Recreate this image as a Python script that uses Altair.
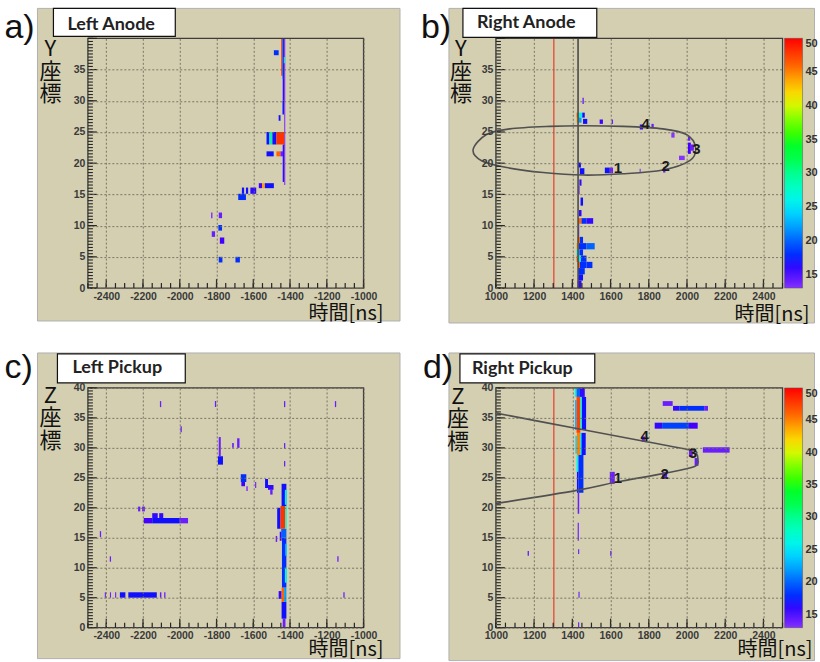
import altair as alt
import pandas as pd

TAN = "#d4cfb1"
GRID = "#6f6b5c"
FRAME = "#3c3c3c"
CJK = "Noto Sans CJK JP"
SANS = "Liberation Sans"
BOXFONT = "Lato"

# ---------------- data: histogram cells (t_start, t_end, coord_start, coord_end, counts) ----------------
A_CELLS = [
    (-1432, -1426, 16.5, 40.0, 13), (-1448, -1441, 34.0, 40.0, 48), (-1441, -1432, 33.5, 40.0, 18),
    (-1434, -1428, 36.0, 37.0, 26), (-1440, -1432, 30.0, 33.5, 16), (-1441, -1433, 27.8, 30.0, 17),
    (-1488, -1462, 37.3, 38.1, 18), (-1462, -1452, 26.8, 27.7, 17), (-1440, -1432, 17.0, 23.0, 16),
    (-1528, -1513, 23.0, 25.0, 17), (-1513, -1505, 23.0, 25.0, 24), (-1505, -1496, 23.0, 25.0, 31),
    (-1496, -1474, 23.0, 25.0, 17), (-1474, -1432, 23.0, 25.0, 48),
    (-1528, -1489, 21.1, 21.9, 17), (-1474, -1452, 21.1, 21.9, 46), (-1452, -1438, 21.1, 21.9, 14),
    (-1570, -1552, 16.0, 16.8, 15), (-1552, -1537, 16.0, 16.8, 44), (-1537, -1488, 16.0, 16.8, 17),
    (-1662, -1650, 15.1, 16.1, 17), (-1640, -1628, 15.1, 16.1, 17), (-1616, -1584, 15.1, 16.1, 16),
    (-1682, -1640, 14.1, 15.1, 18),
    (-1830, -1822, 11.2, 12.1, 13), (-1788, -1770, 11.2, 12.1, 14), (-1790, -1770, 9.2, 10.1, 18),
    (-1826, -1808, 8.2, 9.1, 14), (-1782, -1758, 7.1, 8.1, 15), (-1788, -1768, 4.1, 5.0, 18),
    (-1697, -1673, 4.1, 5.0, 18),
]

B_CELLS = [
    (1453, 1460, 29.5, 30.5, 14), (1422, 1432, 27.3, 28.1, 46), (1432, 1452, 27.3, 28.1, 26),
    (1452, 1465, 27.3, 28.1, 17), (1422, 1432, 26.5, 27.3, 44), (1432, 1448, 26.5, 27.3, 22),
    (1456, 1478, 26.3, 27.1, 17), (1543, 1560, 26.3, 27.0, 15), (1606, 1613, 26.3, 27.0, 14),
    (1753, 1770, 25.4, 26.2, 16), (1814, 1826, 25.6, 26.3, 14), (1918, 1935, 24.1, 24.9, 13),
    (2005, 2017, 23.6, 24.2, 14), (2005, 2020, 21.5, 23.3, 15), (2020, 2036, 22.0, 23.0, 14),
    (1958, 1988, 20.5, 21.2, 13), (1875, 1887, 18.5, 19.3, 14), (1752, 1758, 18.5, 19.1, 13),
    (1570, 1596, 18.4, 19.3, 17), (1596, 1613, 18.4, 19.3, 14),
    (1430, 1445, 19.3, 20.1, 17), (1439, 1463, 18.2, 19.2, 17), (1437, 1448, 16.4, 17.4, 16),
    (1432, 1438, 15.0, 16.4, 14), (1443, 1456, 13.2, 14.5, 17), (1435, 1448, 11.5, 12.5, 16),
    (1430, 1448, 10.3, 11.2, 46), (1448, 1474, 10.3, 11.2, 18), (1474, 1509, 10.3, 11.2, 16),
    (1430, 1436, 8.2, 10.3, 14), (1428, 1440, 7.2, 8.2, 46), (1440, 1456, 7.2, 8.2, 18),
    (1422, 1435, 6.2, 7.2, 44), (1435, 1474, 6.2, 7.2, 18), (1474, 1517, 6.2, 7.2, 20),
    (1422, 1437, 5.2, 6.2, 26), (1437, 1456, 5.2, 6.2, 18), (1422, 1433, 4.2, 5.2, 46),
    (1433, 1445, 4.2, 5.2, 26), (1445, 1474, 4.2, 5.2, 18), (1430, 1440, 3.2, 4.2, 46),
    (1440, 1474, 3.2, 4.2, 18), (1474, 1505, 3.2, 4.2, 18), (1430, 1465, 2.2, 3.2, 18),
    (1430, 1456, 1.2, 2.2, 17), (1428, 1448, 0.0, 1.2, 16),
]

C_CELLS = [
    (-2108, -2101, 36.8, 37.8, 14), (-1809, -1802, 36.8, 37.8, 14), (-1433, -1426, 36.8, 37.8, 14),
    (-1156, -1149, 36.8, 37.8, 14), (-1996, -1989, 32.6, 33.6, 14), (-1433, -1426, 29.9, 30.8, 14),
    (-1433, -1426, 26.9, 27.8, 14), (-2435, -2428, 15.1, 16.1, 14), (-2381, -2374, 11.0, 11.9, 14),
    (-1143, -1136, 11.0, 11.9, 14), (-1110, -1103, 5.0, 5.9, 14),
    (-1788, -1777, 28.6, 31.8, 14), (-1792, -1765, 27.2, 28.6, 17), (-1715, -1706, 30.0, 30.8, 14),
    (-1688, -1675, 30.0, 31.6, 14), (-1668, -1638, 24.3, 25.6, 18), (-1665, -1645, 23.6, 24.3, 15),
    (-1638, -1630, 22.8, 23.6, 13), (-1590, -1584, 23.3, 24.3, 14), (-1536, -1520, 23.3, 24.8, 17),
    (-1520, -1490, 23.0, 23.8, 16), (-1508, -1495, 22.2, 23.0, 14),
    (-2196, -2150, 17.4, 18.3, 15), (-2150, -2000, 17.4, 18.3, 17), (-2000, -1955, 17.4, 18.3, 14),
    (-2150, -2120, 18.3, 19.1, 16), (-2112, -2090, 18.3, 19.1, 16), (-2227, -2215, 19.4, 20.2, 14),
    (-2205, -2190, 19.4, 20.2, 14),
    (-2408, -2402, 5.0, 5.9, 14), (-2380, -2374, 5.0, 5.9, 14), (-2352, -2346, 5.0, 5.9, 14),
    (-2326, -2296, 5.0, 5.9, 17), (-2280, -2125, 5.0, 5.9, 17), (-2108, -2100, 5.0, 5.9, 14),
    (-2085, -2078, 5.0, 5.9, 14),
    (-1440, -1425, 0.0, 1.5, 14), (-1446, -1420, 1.5, 4.3, 17), (-1462, -1446, 4.8, 6.1, 16),
    (-1446, -1432, 4.3, 6.7, 46), (-1432, -1420, 4.3, 6.7, 22), (-1444, -1420, 6.7, 15.0, 18),
    (-1428, -1418, 7.5, 10.0, 27), (-1426, -1418, 12.0, 14.0, 24), (-1478, -1470, 14.3, 15.3, 14),
    (-1456, -1446, 14.5, 16.0, 15), (-1448, -1420, 15.0, 16.5, 20), (-1470, -1452, 16.5, 20.0, 17),
    (-1452, -1426, 16.5, 20.3, 48), (-1426, -1418, 16.5, 20.3, 27), (-1446, -1420, 20.3, 24.0, 17),
    (-1428, -1418, 20.5, 23.0, 26),
]

D_CELLS = [
    (1413, 1422, 38.5, 40.0, 26), (1422, 1440, 38.5, 40.0, 20), (1440, 1465, 38.5, 40.0, 16),
    (1422, 1442, 32.5, 38.5, 47), (1415, 1422, 33.0, 38.0, 22), (1442, 1450, 33.0, 38.5, 27),
    (1450, 1472, 33.0, 38.5, 17), (1424, 1440, 28.8, 32.5, 45), (1416, 1424, 29.0, 32.0, 24),
    (1440, 1448, 28.8, 32.5, 26), (1448, 1470, 28.8, 32.5, 17), (1422, 1432, 26.0, 28.8, 26),
    (1432, 1458, 22.5, 28.8, 18), (1424, 1432, 22.5, 26.0, 17), (1428, 1436, 19.0, 22.5, 14),
    (1428, 1434, 14.5, 17.5, 14), (1430, 1436, 12.3, 13.1, 14), (1432, 1438, 5.0, 6.0, 14),
    (1430, 1436, 0.0, 0.9, 14), (1166, 1173, 12.0, 12.8, 14), (1598, 1605, 12.0, 12.8, 14),
    (1873, 1925, 37.0, 37.8, 14), (1927, 1960, 36.2, 37.0, 16), (1960, 2090, 36.2, 37.0, 18),
    (2090, 2110, 36.2, 37.0, 14), (1831, 1870, 33.2, 34.2, 16), (1870, 2010, 33.2, 34.2, 19),
    (2010, 2056, 33.2, 34.2, 15), (2083, 2223, 29.2, 30.1, 14), (2010, 2030, 28.5, 29.6, 14),
    (2040, 2060, 27.0, 28.3, 14), (1596, 1622, 24.0, 26.0, 14), (1870, 1896, 25.0, 26.0, 14),
    (1763, 1780, 31.0, 31.9, 14),
]

# overlay curves
B_ELLIPSE_T = [881, 951, 1073, 1282, 1456, 1665, 1874, 1997, 2045, 2014, 1874, 1665, 1456, 1247, 1056, 925]
B_ELLIPSE_Y = [22.2, 24.6, 25.5, 25.9, 26.0, 25.9, 25.5, 24.6, 22.5, 20.4, 18.9, 18.3, 18.1, 18.5, 19.3, 20.4]
D_CURVE_T = [1000, 1423, 1768, 2022, 2050, 2056, 2040, 1873, 1632, 1423, 1000]
D_CURVE_Y = [35.8, 33.23, 31.14, 29.6, 29.0, 28.2, 26.9, 25.7, 24.3, 22.9, 20.7]
B_NUM_T = [1639, 1888, 2049, 1784]
B_NUM_Y = [19.3, 19.6, 22.2, 26.2]
D_NUM_T = [1639, 1883, 2031, 1779]
D_NUM_Y = [24.9, 25.7, 29.1, 31.9]
NUM_LABELS = ["1", "2", "3", "4"]
RED_LINE_T = [1303]
DARK_LINE_T = [1430]

# axes
T_LEFT_DOMAIN = [-2500, -1000]
T_RIGHT_DOMAIN = [1000, 2500]
T_LEFT_LABELS = [-2400, -2200, -2000, -1800, -1600, -1400, -1200, -1000]
T_RIGHT_LABELS = [1000, 1200, 1400, 1600, 1800, 2000, 2200, 2400]
Y_LABELS_TOP = [0, 5, 10, 15, 20, 25, 30, 35]
Y_LABELS_BOTTOM = [0, 5, 10, 15, 20, 25, 30, 35, 40]
Y_MAJOR = [0, 5, 10, 15, 20, 25, 30, 35, 40]

# colour palette (counts)
CB_STOPS = [13, 15, 17, 19, 21, 23, 25, 27, 29, 32, 35, 37.5, 39, 41, 43, 45, 47, 50]
CB_COLORS = ["#8533ff", "#4400ff", "#1010ff", "#0040ff", "#0080ff", "#10b8ff", "#00e8f8", "#00ffd8",
             "#00ffa8", "#00ff50", "#00ff00", "#60ff00", "#b0ff00", "#f0f000", "#ffc000", "#ff8000",
             "#ff4000", "#ff0000"]
CB_LABELS = [15, 20, 25, 30, 35, 40, 45, 50]

ONE = alt.Data(values=[{}])


def deco_rect(x0, y0, x1, y1, **kw):
    return alt.Chart(ONE).mark_rect(**kw).encode(
        x=alt.value(x0), x2=alt.value(x1), y=alt.value(y0), y2=alt.value(y1))


def deco_text(txt, x, y, **kw):
    return alt.Chart(ONE).mark_text(text=txt, **kw).encode(x=alt.value(x), y=alt.value(y))


def panel(cfg):
    w, h = cfg["w"], cfg["h"]
    tdom = cfg["tdom"]
    xs = alt.Scale(domain=tdom, nice=False, zero=False)
    ys = alt.Scale(domain=[0, 40], nice=False, zero=False)
    common = dict(grid=True, gridColor=GRID, gridDash=[2, 2], gridWidth=1, gridOpacity=0.9,
                  ticks=False, domain=False, labelExpr="'' + datum.value", labelFont=SANS,
                  labelFontWeight="bold", labelFontSize=10.5, labelColor="#3a3a3a", title=None,
                  zindex=1, labelOverlap=False, labelFlush=False, labelPadding=3)
    xax = alt.Axis(values=cfg["tlabels"], **common)
    yax = alt.Axis(values=cfg["ylabels"], **common)

    def X(f):
        return alt.X(f"{f}:Q", scale=xs, axis=xax)

    def Y(f):
        return alt.Y(f"{f}:Q", scale=ys, axis=yax)

    layers = []
    if cfg.get("page"):
        layers.append(deco_rect(-87.5, -37, 732.5, 625, color="white"))
    bx0, by0, bx1, by1 = cfg["bg"]
    layers.append(deco_rect(bx0, by0, bx1, by1, fill=TAN, stroke="#b0b0b0", strokeWidth=1))

    cells = pd.DataFrame(cfg["cells"], columns=["t0", "t1", "c0", "c1", "n"])
    if cfg["legend"]:
        legend = alt.Legend(orient="none", legendX=289, legendY=0, direction="vertical",
                            gradientLength=h, gradientThickness=18, title=None, values=CB_LABELS,
                            labelFont=SANS, labelFontWeight="bold", labelFontSize=11,
                            labelColor="#333333", labelOffset=3, gradientStrokeColor="#555555",
                            gradientStrokeWidth=0.5, padding=0, labelOverlap=False)
    else:
        legend = None
    cscale = alt.Scale(domain=CB_STOPS, range=CB_COLORS, type="linear", clamp=True)
    layers.append(alt.Chart(cells).mark_rect().encode(
        x=X("t0"), x2="t1:Q", y=Y("c0"), y2="c1:Q",
        color=alt.Color("n:Q", scale=cscale, legend=legend)))

    if cfg.get("right"):
        red = pd.DataFrame({"t": RED_LINE_T})
        layers.append(alt.Chart(red).mark_rule(color="#e5604a", strokeWidth=1.6).encode(
            x=X("t"), y=alt.value(0), y2=alt.value(h)))
        if cfg["key"] == "b":
            dark = pd.DataFrame({"t": DARK_LINE_T})
            layers.append(alt.Chart(dark).mark_rule(color="#4a4a4a", strokeWidth=1.6).encode(
                x=X("t"), y=alt.value(0), y2=alt.value(h)))
            curve = pd.DataFrame({"t": B_ELLIPSE_T, "c": B_ELLIPSE_Y, "i": list(range(len(B_ELLIPSE_T)))})
            layers.append(alt.Chart(curve).mark_line(interpolate="cardinal-closed", color="#505050",
                                                     strokeWidth=1.6).encode(
                x=X("t"), y=Y("c"), order="i:Q"))
            nums = pd.DataFrame({"t": B_NUM_T, "c": B_NUM_Y, "lab": NUM_LABELS})
        else:
            curve = pd.DataFrame({"t": D_CURVE_T, "c": D_CURVE_Y, "i": list(range(len(D_CURVE_T)))})
            layers.append(alt.Chart(curve).mark_line(interpolate="cardinal", color="#505050",
                                                     strokeWidth=1.6).encode(
                x=X("t"), y=Y("c"), order="i:Q"))
            nums = pd.DataFrame({"t": D_NUM_T, "c": D_NUM_Y, "lab": NUM_LABELS})
        layers.append(alt.Chart(nums).mark_text(font=SANS, fontWeight="bold", fontSize=15,
                                                color="#1a1a1a").encode(
            x=X("t"), y=Y("c"), text="lab:N"))

    # frame
    layers.append(deco_rect(0, 0, w, h, fill="white", fillOpacity=0, stroke=FRAME, strokeWidth=1.3))

    # inner ticks (ROOT style), drawn on top of the frame
    t_minor = pd.DataFrame({"tk": list(range(tdom[0], tdom[1] + 1, 50))})
    t_major = pd.DataFrame({"tk": cfg["tlabels"]})
    y_minor = pd.DataFrame({"ck": [k / 2 for k in range(0, 81)]})
    y_major = pd.DataFrame({"ck": Y_MAJOR})
    tick_col = "#262626"
    layers.append(alt.Chart(t_minor).mark_rule(color=tick_col, strokeWidth=1.2).encode(
        x=X("tk"), y=alt.value(h), y2=alt.value(h - 5)))
    layers.append(alt.Chart(t_major).mark_rule(color=tick_col, strokeWidth=1.2).encode(
        x=X("tk"), y=alt.value(h), y2=alt.value(h - 9)))
    layers.append(alt.Chart(y_minor).mark_rule(color=tick_col, strokeWidth=1.1).encode(
        y=Y("ck"), x=alt.value(0), x2=alt.value(5)))
    layers.append(alt.Chart(y_major).mark_rule(color=tick_col, strokeWidth=1.2).encode(
        y=Y("ck"), x=alt.value(0), x2=alt.value(9)))

    # title box
    x0, y0, x1, y1 = cfg["box"]
    layers.append(deco_rect(x0, y0, x1, y1, fill="white", stroke="#111111", strokeWidth=1.2))
    tx, ty = cfg["box_text_pos"]
    layers.append(deco_text(cfg["title"], tx, ty, font=BOXFONT, fontWeight="bold", fontSize=18,
                            color="#222222", align="left", baseline="alphabetic"))
    lx, ly = cfg["letter_pos"]
    layers.append(deco_text(cfg["letter"], lx, ly, font=SANS, fontSize=34, color="#111111",
                            align="left", baseline="alphabetic"))
    yx, yy = cfg["ytitle_pos"]
    layers.append(deco_text(cfg["ytitle"], yx, yy, font=CJK, fontSize=22, lineBreak="\n",
                            lineHeight=22.5, color="#111111", align="center", baseline="alphabetic"))
    xx, xy = cfg["xtitle_pos"]
    layers.append(deco_text("時間[ns]", xx, xy, font=CJK, fontSize=20, color="#111111",
                            align="right", baseline="alphabetic"))

    return alt.layer(*layers).properties(width=w, height=h)


PANELS = [
    dict(key="a", page=True, w=276, h=250, tdom=T_LEFT_DOMAIN, tlabels=T_LEFT_LABELS,
         ylabels=Y_LABELS_TOP, cells=A_CELLS, legend=False, right=False,
         bg=(-50.5, -30, 312.5, 283), box=(-34.5, -30, 87.5, -2), box_text_pos=(-20.5, -8.5),
         title="Left Anode", letter="a)", letter_pos=(-83.5, 0), ytitle="Y\n座\n標",
         ytitle_pos=(-37.5, 18), xtitle_pos=(296, 282)),
    dict(key="b", w=287, h=250, tdom=T_RIGHT_DOMAIN, tlabels=T_RIGHT_LABELS,
         ylabels=Y_LABELS_TOP, cells=B_CELLS, legend=True, right=True,
         bg=(-47, -30, 319, 285), box=(-33, -30, 101, -1), box_text_pos=(-19, -10),
         title="Right Anode", letter="b)", letter_pos=(-75, 0), ytitle="Y\n座\n標",
         ytitle_pos=(-35, 18), xtitle_pos=(314, 283)),
    dict(key="c", w=276, h=240, tdom=T_LEFT_DOMAIN, tlabels=T_LEFT_LABELS,
         ylabels=Y_LABELS_BOTTOM, cells=C_CELLS, legend=False, right=False,
         bg=(-50.5, -35, 312.5, 271), box=(-30.5, -34, 97.5, -5), box_text_pos=(-15.5, -15),
         title="Left Pickup", letter="c)", letter_pos=(-83.5, -10), ytitle="Z\n座\n標",
         ytitle_pos=(-37.5, 15), xtitle_pos=(296, 268)),
    dict(key="d", w=287, h=240, tdom=T_RIGHT_DOMAIN, tlabels=T_RIGHT_LABELS,
         ylabels=Y_LABELS_BOTTOM, cells=D_CELLS, legend=True, right=True,
         bg=(-47, -35, 319, 273), box=(-36, -34, 99, -5), box_text_pos=(-24, -14),
         title="Right Pickup", letter="d)", letter_pos=(-73, -10), ytitle="Z\n座\n標",
         ytitle_pos=(-38, 16), xtitle_pos=(317, 268)),
]

charts = [panel(p) for p in PANELS]

chart = alt.concat(
    *charts, columns=2, spacing={"row": 100, "column": 132.5}, bounds="flush", padding=0,
    background="white"
).resolve_scale(color="independent").resolve_legend(color="independent").configure_view(
    stroke="transparent")

chart.save("out.html", embed_options={"renderer": "svg", "actions": False})
